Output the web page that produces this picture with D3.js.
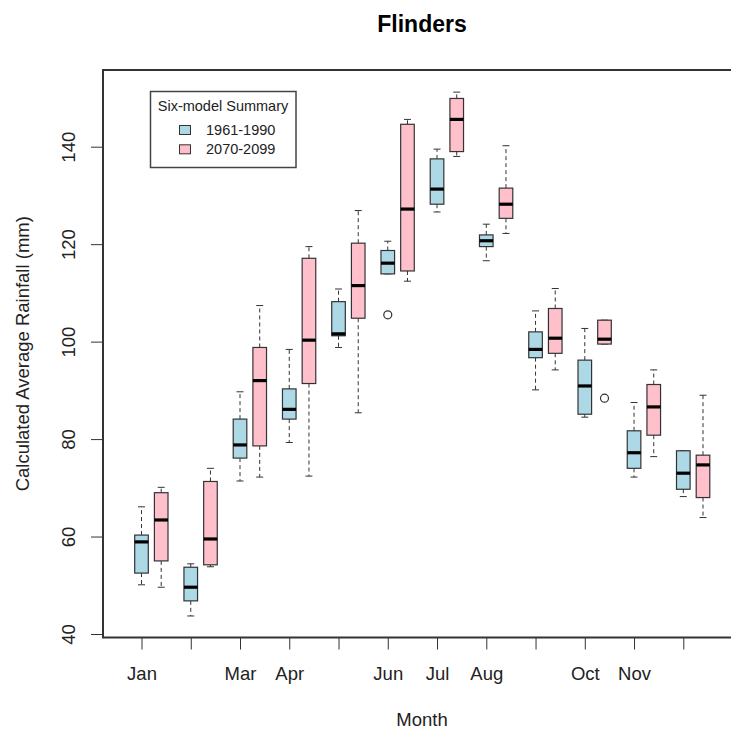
<!DOCTYPE html>
<html>
<head>
<meta charset="utf-8">
<script src="https://cdn.jsdelivr.net/npm/d3@7"></script>
<style>
  body { margin: 0; background: #fff; }
  svg { display: block; font-family: "Liberation Sans", Arial, sans-serif; }
</style>
</head>
<body>
<svg id="chart" width="731" height="729"></svg>
<script>
const months = ["Jan", "Feb", "Mar", "Apr", "May", "Jun", "Jul", "Aug", "Sep", "Oct", "Nov", "Dec"];
// R dropped the labels that would have overlapped
const tickLabels = ["Jan", "", "Mar", "Apr", "", "Jun", "Jul", "Aug", "", "Oct", "Nov", ""];
const yTicks = [40, 60, 80, 100, 120, 140];
const periods = ["1961-1990", "2070-2099"];

// five-number summaries: [lower whisker, q1, median, q3, upper whisker]
const past = [
  [50.1, 52.5, 58.9, 60.3, 66.1],
  [43.7, 46.8, 49.6, 53.7, 54.4],
  [71.4, 76.1, 78.8, 84.1, 89.7],
  [79.3, 84.1, 86.1, 90.3, 98.4],
  [98.8, 101.2, 101.6, 108.2, 110.8],
  [113.9, 113.9, 116.1, 118.7, 120.6],
  [126.6, 128.2, 131.3, 137.5, 139.5],
  [116.6, 119.5, 120.7, 121.9, 124.1],
  [90.1, 96.7, 98.4, 102.0, 106.3],
  [84.5, 85.1, 90.9, 96.2, 102.7],
  [72.2, 74.0, 77.2, 81.7, 87.5],
  [68.2, 69.7, 73.0, 77.6, 77.6]
];
const future = [
  [49.6, 55.0, 63.4, 69.0, 70.1],
  [53.8, 54.2, 59.5, 71.3, 74.0],
  [72.2, 78.6, 92.0, 98.8, 107.4],
  [72.4, 91.4, 100.3, 117.1, 119.5],
  [85.4, 104.8, 111.5, 120.2, 126.9],
  [112.4, 114.5, 127.2, 144.6, 145.6],
  [138.0, 139.0, 145.6, 149.9, 151.2],
  [122.2, 125.3, 128.2, 131.5, 140.2],
  [94.2, 97.6, 100.7, 106.8, 110.9],
  [99.5, 99.5, 100.5, 104.4, 104.4],
  [76.4, 80.8, 86.6, 91.2, 94.2],
  [63.9, 68.0, 74.7, 76.7, 89.0]
];
// outliers as [month index, value]
const pastOutliers = [[5, 105.5]];
const futureOutliers = [[9, 88.4]];

const colors = { "1961-1990": "#add8e6", "2070-2099": "#ffc0cb" };

const svg = d3.select("#chart");
const plot = { left: 103, right: 741, top: 70, bottom: 637.5 };

const x = d3.scaleLinear().domain([1, 12]).range([141.5, 683.3]);
const y = d3.scaleLinear().domain([40, 140]).range([634, 146.7]);

const offset = 0.4;      // pink boxes sit right of the tick
const halfW = 6.8;       // box half width in px
const capW = 3.5;        // staple half width

// axes
const xAxis = d3.axisBottom(x)
  .tickValues(d3.range(1, 13))
  .tickFormat((d, i) => tickLabels[i])
  .tickSize(12)
  .tickPadding(17);
svg.append("g")
  .attr("transform", `translate(0,${plot.bottom})`)
  .call(xAxis)
  .call(g => g.select(".domain").remove())
  .call(g => g.selectAll("line").attr("stroke", "#333"))
  .call(g => g.selectAll("text").attr("font-size", "18.5px").attr("fill", "#222"));

const yAxis = d3.axisLeft(y).tickValues(yTicks).tickSize(12);
svg.append("g")
  .attr("transform", `translate(${plot.left},0)`)
  .call(yAxis)
  .call(g => g.select(".domain").remove())
  .call(g => g.selectAll("line").attr("stroke", "#333"))
  .call(g => g.selectAll("text")
    .attr("font-size", "18.5px")
    .attr("fill", "#222")
    .attr("x", null).attr("dy", null)
    .attr("text-anchor", "middle")
    .attr("transform", "translate(-28,0) rotate(-90)"));

// frame
svg.append("rect")
  .attr("x", plot.left).attr("y", plot.top)
  .attr("width", plot.right - plot.left).attr("height", plot.bottom - plot.top)
  .attr("fill", "none").attr("stroke", "#333").attr("stroke-width", 2);

function drawBoxes(data, period, shift) {
  const g = svg.append("g").attr("class", "boxes");
  const b = g.selectAll("g").data(data).enter().append("g")
    .attr("transform", (d, i) => `translate(${x(i + 1 + shift)},0)`);

  // whiskers
  b.append("line")
    .attr("y1", d => y(d[3])).attr("y2", d => y(d[4]))
    .attr("stroke", "#333").attr("stroke-dasharray", "4,3");
  b.append("line")
    .attr("y1", d => y(d[1])).attr("y2", d => y(d[0]))
    .attr("stroke", "#333").attr("stroke-dasharray", "4,3");
  b.append("line")
    .attr("x1", -capW).attr("x2", capW)
    .attr("y1", d => y(d[4])).attr("y2", d => y(d[4]))
    .attr("stroke", "#333");
  b.append("line")
    .attr("x1", -capW).attr("x2", capW)
    .attr("y1", d => y(d[0])).attr("y2", d => y(d[0]))
    .attr("stroke", "#333");

  b.append("rect")
    .attr("x", -halfW).attr("width", halfW * 2)
    .attr("y", d => y(d[3]))
    .attr("height", d => Math.max(0.5, y(d[1]) - y(d[3])))
    .attr("fill", colors[period])
    .attr("stroke", "#333").attr("stroke-width", 1.2);

  b.append("line")
    .attr("x1", -halfW).attr("x2", halfW)
    .attr("y1", d => y(d[2])).attr("y2", d => y(d[2]))
    .attr("stroke", "#000").attr("stroke-width", 3.2);
}

drawBoxes(past, "1961-1990", 0);
drawBoxes(future, "2070-2099", offset);

svg.append("g").selectAll("circle")
  .data(pastOutliers.map(d => [d[0] + 1, d[1]]).concat(futureOutliers.map(d => [d[0] + 1 + offset, d[1]])))
  .enter().append("circle")
  .attr("cx", d => x(d[0])).attr("cy", d => y(d[1]))
  .attr("r", 4)
  .attr("fill", "none").attr("stroke", "#333").attr("stroke-width", 1.2);

// titles
svg.append("text")
  .attr("x", (plot.left + plot.right) / 2).attr("y", 32)
  .attr("text-anchor", "middle")
  .attr("font-size", "23px").attr("font-weight", "bold")
  .text("Flinders");

svg.append("text")
  .attr("x", (plot.left + plot.right) / 2).attr("y", 726)
  .attr("text-anchor", "middle")
  .attr("font-size", "18.5px").attr("fill", "#222")
  .text("Month");

svg.append("text")
  .attr("transform", `translate(29,${(plot.top + plot.bottom) / 2}) rotate(-90)`)
  .attr("text-anchor", "middle")
  .attr("font-size", "18.5px").attr("fill", "#222")
  .text("Calculated Average Rainfall (mm)");

// legend
const legend = svg.append("g");
legend.append("rect")
  .attr("x", 150.5).attr("y", 91.5).attr("width", 145.5).attr("height", 76)
  .attr("fill", "#fff").attr("stroke", "#444").attr("stroke-width", 1.5);
legend.append("text")
  .attr("x", 223).attr("y", 111)
  .attr("text-anchor", "middle")
  .attr("font-size", "14.5px").attr("fill", "#222")
  .text("Six-model Summary");
const items = legend.selectAll("g.item").data(periods).enter().append("g")
  .attr("class", "item")
  .attr("transform", (d, i) => `translate(0,${130 + i * 19.3})`);
items.append("rect")
  .attr("x", 179.5).attr("y", -4.5).attr("width", 11).attr("height", 9)
  .attr("fill", d => colors[d]).attr("stroke", "#333");
items.append("text")
  .attr("x", 206).attr("y", 5)
  .attr("font-size", "14.5px").attr("fill", "#222")
  .text(d => d);
</script>
</body>
</html>
